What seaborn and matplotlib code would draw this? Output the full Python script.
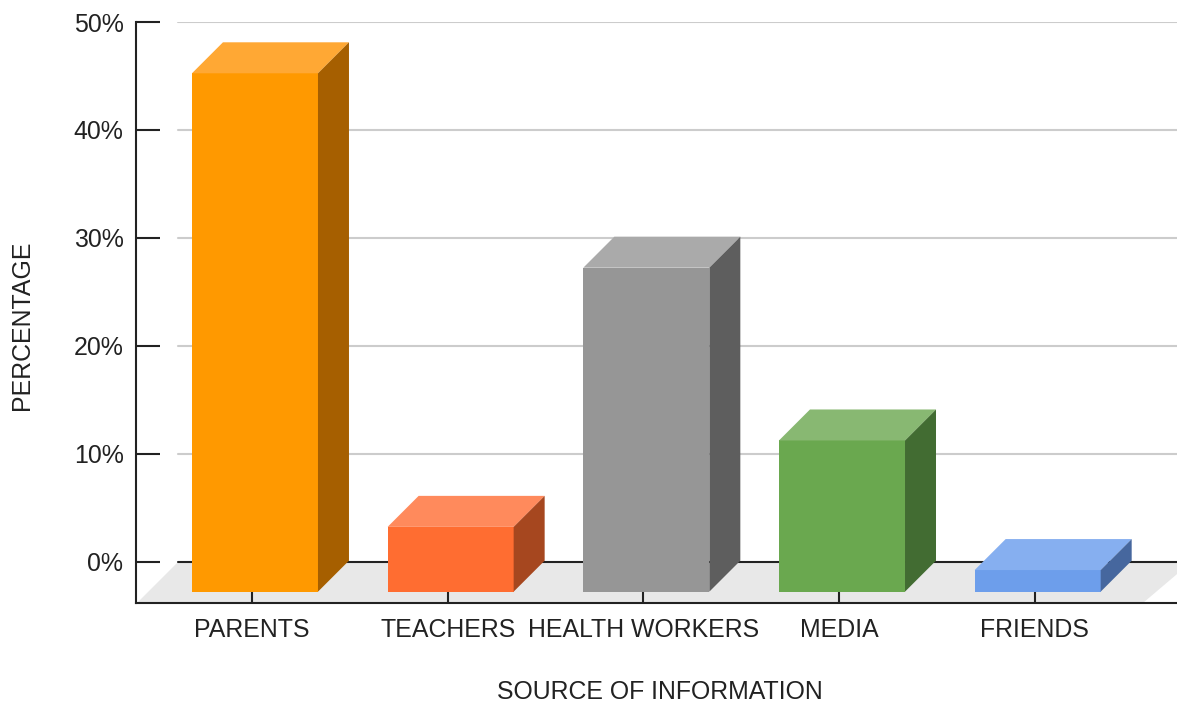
import matplotlib
matplotlib.use("Agg")
import matplotlib.pyplot as plt
from matplotlib.patches import Polygon
import seaborn as sns
import pandas as pd

# data
sources = ["PARENTS", "TEACHERS", "HEALTH WORKERS", "MEDIA", "FRIENDS"]
percent = [48, 6, 30, 14, 2]
y_ticks = [0, 10, 20, 30, 40, 50]
y_tick_labels = ["0%", "10%", "20%", "30%", "40%", "50%"]

# face colours for the fake 3d boxes
front_colors = ["#ff9900", "#ff6d31", "#969696", "#6aa84f", "#6d9eeb"]
top_colors = ["#ffa834", "#ff8a5c", "#aaaaaa", "#88b872", "#86aff0"]
side_colors = ["#a65f00", "#a6471f", "#5e5e5e", "#426c32", "#46679e"]

df = pd.DataFrame({"source": sources, "pct": percent})

sns.set_style("white")
plt.rcParams["font.family"] = ["Liberation Sans", "DejaVu Sans"]
txt = "#222222"
fs = 17.9

fig = plt.figure(figsize=(11.77, 7.02), dpi=100)
ax = fig.add_axes([136 / 1177, 99 / 702, 1041 / 1177, 581 / 702])

# depth of the boxes, in data units
DX = 31 / 195.7
DY = 31 / 10.8
base = -2.75
shift = 0.015

sns.barplot(data=df, x="source", y="pct", hue="source", palette=front_colors,
            order=sources, hue_order=sources, legend=False, errorbar=None,
            saturation=1, width=0.644, bottom=base, linewidth=0, ax=ax, zorder=3)

ax.set_xlim(-0.593, 4.727)
ax.set_ylim(-3.8, 50)

# floor
back_x = 42 / 1041
floor = Polygon([(-0.588, -3.8), (-0.378, 0), (4.8, 0), (4.553, -3.8)],
                closed=True, facecolor="#e8e8e8", edgecolor="none", zorder=0.5)
ax.add_patch(floor)

# back wall gridlines
for t in y_ticks:
    ax.axhline(t, xmin=back_x, xmax=1, color="#222222" if t == 0 else "#cccccc",
               lw=1.5, zorder=0.6)

# top and side faces
for i, p in enumerate(list(ax.patches[:len(sources)])):
    p.set_x(p.get_x() + shift)
    x0 = p.get_x()
    x1 = x0 + p.get_width()
    y0 = p.get_y()
    y1 = y0 + p.get_height()
    top = Polygon([(x0, y1), (x0 + DX, y1 + DY), (x1 + DX, y1 + DY), (x1, y1)],
                  closed=True, facecolor=top_colors[i], edgecolor="none", zorder=3)
    side = Polygon([(x1, y0), (x1 + DX, y0 + DY), (x1 + DX, y1 + DY), (x1, y1)],
                   closed=True, facecolor=side_colors[i], edgecolor="none", zorder=3)
    ax.add_patch(top)
    ax.add_patch(side)

ax.set_axisbelow(False)
ax.set_yticks(y_ticks)
ax.set_yticklabels(y_tick_labels)
ax.tick_params(axis="y", direction="in", length=17.3, width=1.5, pad=9,
               labelsize=fs, labelcolor=txt, color="#222222", left=True)
ax.tick_params(axis="x", direction="in", length=17.3, width=1.5, pad=10.5,
               labelsize=fs, labelcolor=txt, color="#222222", bottom=True)
for s in ["top", "right"]:
    ax.spines[s].set_visible(False)
for s in ["left", "bottom"]:
    ax.spines[s].set_color("#222222")
    ax.spines[s].set_linewidth(1.5)
    ax.spines[s].set_zorder(5)

ax.set_xlabel("SOURCE OF INFORMATION", fontsize=fs, color=txt, va="center")
ax.xaxis.set_label_coords(0.503, -0.153)
ax.set_ylabel("PERCENTAGE", fontsize=fs, color=txt, va="center")
ax.yaxis.set_label_coords(-0.1095, 0.478)

fig.savefig("out.png", dpi=100)
